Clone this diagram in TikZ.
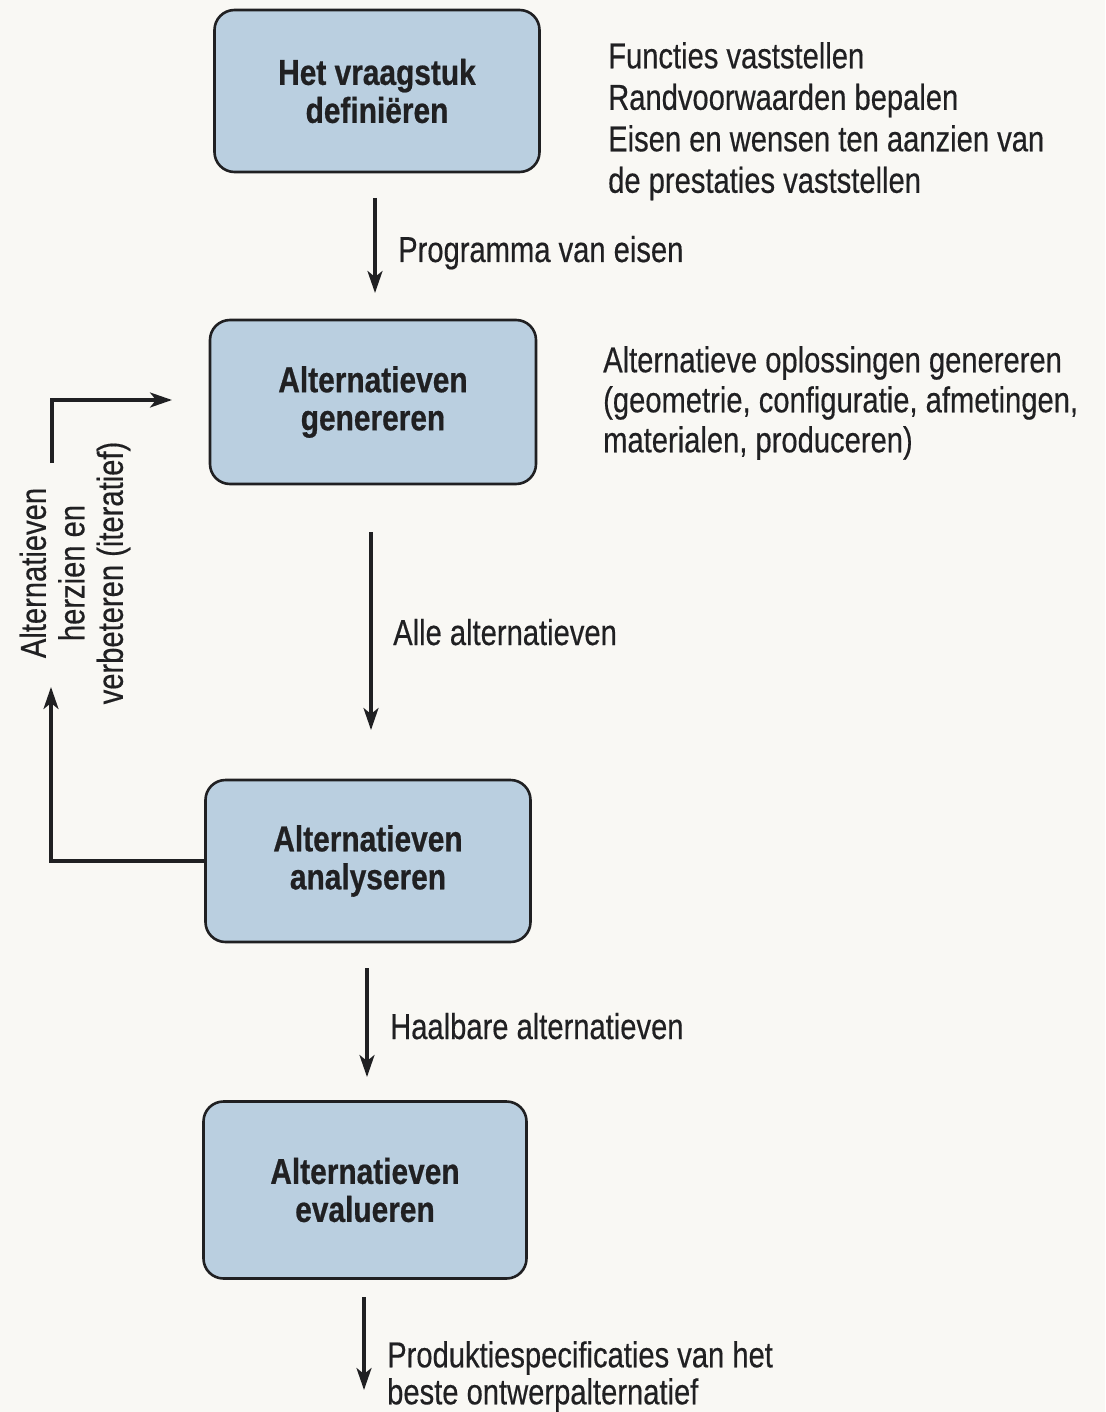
\documentclass[tikz,border=0pt]{standalone}
\usepackage{fontspec}
\setmainfont{Liberation Sans}
\newfontfamily\lblfont{Liberation Sans}[FakeStretch=0.81, FakeBold=0.4]
\newfontfamily\boxfont{Liberation Sans}[FakeStretch=0.83, FakeBold=0.6]
\usetikzlibrary{arrows.meta}
\definecolor{paper}{RGB}{249,248,244}
\definecolor{boxblue}{RGB}{186,207,224}
\definecolor{ink}{RGB}{32,32,34}

\begin{document}
\begin{tikzpicture}[x=1pt,y=-1pt,
  stage/.style={draw=ink, line width=2.6pt, fill=boxblue, rounded corners=20pt,
    inner sep=0pt, align=center, text=ink,
    font=\boxfont\bfseries\fontsize{36}{38}\selectfont},
  flow/.style={draw=ink, line width=3.2pt,
    -{Stealth[length=22pt,width=15pt,inset=6pt]}},
  note/.style={inner sep=0pt, text=ink, align=left,
    font=\lblfont\fontsize{36}{41.5}\selectfont},
]
\fill[paper] (0,0) rectangle (1105,1412);
\useasboundingbox (0,0) rectangle (1105,1412);

% process stages
\node[stage, minimum width=325pt, minimum height=162pt] (define) at (377,91) {Het vraagstuk\\definiëren};
\node[stage, minimum width=326pt, minimum height=164pt] (generate) at (373,402) {Alternatieven\\genereren};
\node[stage, minimum width=325pt, minimum height=162pt] (analyse) at (368,861) {Alternatieven\\analyseren};
\node[stage, minimum width=323pt, minimum height=177pt] (evaluate) at (365,1190) {Alternatieven\\evalueren};

% downward flow between stages
\coordinate (p1) at (375,198); \coordinate (q1) at (375,293);
\coordinate (p2) at (371,532); \coordinate (q2) at (371,730);
\coordinate (p3) at (367,968); \coordinate (q3) at (367,1077);
\coordinate (p4) at (364,1297); \coordinate (q4) at (364,1390);
\draw[flow] (p1) -- (q1);
\draw[flow] (p2) -- (q2);
\draw[flow] (p3) -- (q3);
\draw[flow] (p4) -- (q4);

% flow labels
\node[note, anchor=base west] (lbl1) at (398,262) {Programma van eisen};
\node[note, anchor=base west] (lbl2) at (393,645) {Alle alternatieven};
\node[note, anchor=base west] (lbl3) at (390,1039) {Haalbare alternatieven};
\node[note, anchor=north west, font=\lblfont\fontsize{36}{37}\selectfont] (lbl4) at (387,1341) {Produktiespecificaties van het\\beste ontwerpalternatief};

% side notes
\node[note, anchor=north west] (side1) at (608,42) {Functies vaststellen\\Randvoorwaarden bepalen\\Eisen en wensen ten aanzien van\\de prestaties vaststellen};
\node[note, anchor=north west, font=\lblfont\fontsize{36}{40}\selectfont] (side2) at (603,346) {Alternatieve oplossingen genereren\\(geometrie, configuratie, afmetingen,\\materialen, produceren)};

% feedback loop
\coordinate (fbA) at (51,687);
\coordinate (fbB) at (52,463);
\coordinate (fbC) at (172,400);
\draw[flow] (analyse.west) -| (fbA);
\draw[flow] (fbB) |- (fbC);
\node[note, align=center, rotate=90, font=\lblfont\fontsize{36}{38.5}\selectfont] (loop) at (75,573) {Alternatieven\\herzien en\\verbeteren (iteratief)};
\end{tikzpicture}
\end{document}
